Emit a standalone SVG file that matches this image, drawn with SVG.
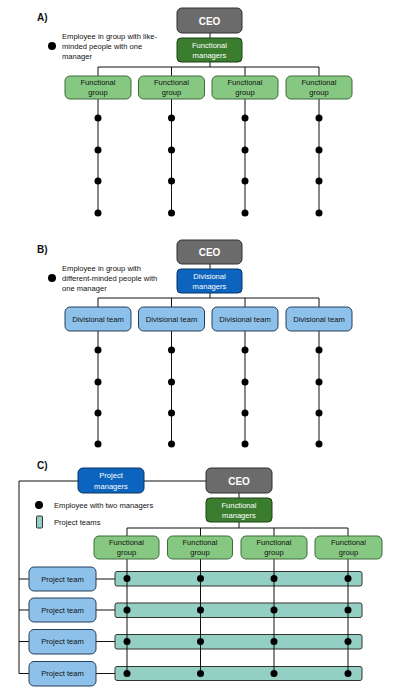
<svg xmlns="http://www.w3.org/2000/svg" width="400" height="694" viewBox="0 0 400 694">
<style>
text{font-family:"Liberation Sans",Arial,sans-serif;font-size:7.6px;fill:#111}
.c{text-anchor:middle}
.w{fill:#fff}
.lbl{font-size:10px;font-weight:bold}
.ceo{fill:#6b6b6b;stroke:#2e2e2e;stroke-width:1}
.fm{fill:#3b7d2f;stroke:#1d4017;stroke-width:1}
.fg{fill:#86c882;stroke:#3d6b3a;stroke-width:1}
.dm{fill:#0c64bf;stroke:#07355f;stroke-width:1}
.dt{fill:#8dc1ea;stroke:#253f5a;stroke-width:1}
.pt{fill:#94cfc3;stroke:#333;stroke-width:1}
.ln{stroke:#111;stroke-width:1;fill:none}
.dot{fill:#000}
.big{font-size:10px;font-weight:bold;fill:#fff}
</style>
<rect width="400" height="694" fill="#fff"/>

<!-- Section labels and legends -->
<text x="37" y="21" class="lbl">A)</text>
<text x="37" y="253" class="lbl">B)</text>
<text x="37" y="469" class="lbl">C)</text>

<g id="legendA">
<circle cx="52" cy="46" r="4" class="dot"/>
<text x="62" y="39">Employee in group with like-</text>
<text x="62" y="49">minded people with one</text>
<text x="62" y="59">manager</text>
</g>
<g id="legendB">
<circle cx="52" cy="278" r="4" class="dot"/>
<text x="62" y="271">Employee in group with</text>
<text x="62" y="281">different-minded people with</text>
<text x="62" y="291">one manager</text>
</g>
<g id="legendC">
<circle cx="39" cy="505" r="4" class="dot"/>
<text x="54" y="508">Employee with two managers</text>
<rect x="36.5" y="516" width="6" height="12" rx="1" class="pt"/>
<text x="54" y="525">Project teams</text>
</g>

<!-- Connectors -->
<g id="connectors" class="ln">
<!-- A -->
<path d="M210 33V67M98 67H319M98 67V76M171.5 67V76M245 67V76M319 67V76"/>
<path d="M98 99V213M171.5 99V213M245 99V213M319 99V213"/>
<!-- B -->
<path d="M210 264V298M98 298H319M98 298V307M171.5 298V307M245 298V307M319 298V307"/>
<path d="M98 331V444M171.5 331V444M245 331V444M319 331V444"/>
<!-- C -->
<path d="M144 481H206M239 493V498M239 522V528M127 528H348M127 528V536M200.5 528V536M274 528V536M348 528V536"/>
<path d="M78 481H19V673.5M19 579H29M19 610H29M19 641.5H29M19 673.5H29"/>
<path d="M96 579H115M96 610H115M96 641.5H115M96 673.5H115"/>
</g>

<!-- A nodes -->
<g id="A-ceo"><rect x="177" y="8" width="65" height="25" rx="5" class="ceo"/><text x="209.5" y="24.5" class="c big">CEO</text></g>
<g id="A-fm"><rect x="177" y="38" width="65" height="24" rx="4" class="fm"/><text x="209.5" y="47.5" class="c w">Functional</text><text x="209.5" y="57.5" class="c w">managers</text></g>
<g id="A-fg1"><rect x="65" y="76" width="66" height="23" rx="5" class="fg"/><text x="98" y="85" class="c">Functional</text><text x="98" y="95" class="c">group</text></g>
<g id="A-fg2"><rect x="138.5" y="76" width="66" height="23" rx="5" class="fg"/><text x="171.5" y="85" class="c">Functional</text><text x="171.5" y="95" class="c">group</text></g>
<g id="A-fg3"><rect x="212" y="76" width="66" height="23" rx="5" class="fg"/><text x="245" y="85" class="c">Functional</text><text x="245" y="95" class="c">group</text></g>
<g id="A-fg4"><rect x="286" y="76" width="66" height="23" rx="5" class="fg"/><text x="319" y="85" class="c">Functional</text><text x="319" y="95" class="c">group</text></g>
<g id="A-dots" class="dot">
<circle cx="98" cy="118" r="3.5"/><circle cx="98" cy="150" r="3.5"/><circle cx="98" cy="181" r="3.5"/><circle cx="98" cy="213" r="3.5"/>
<circle cx="171.5" cy="118" r="3.5"/><circle cx="171.5" cy="150" r="3.5"/><circle cx="171.5" cy="181" r="3.5"/><circle cx="171.5" cy="213" r="3.5"/>
<circle cx="245" cy="118" r="3.5"/><circle cx="245" cy="150" r="3.5"/><circle cx="245" cy="181" r="3.5"/><circle cx="245" cy="213" r="3.5"/>
<circle cx="319" cy="118" r="3.5"/><circle cx="319" cy="150" r="3.5"/><circle cx="319" cy="181" r="3.5"/><circle cx="319" cy="213" r="3.5"/>
</g>

<!-- B nodes -->
<g id="B-ceo"><rect x="177" y="240" width="65" height="24" rx="5" class="ceo"/><text x="209.5" y="256" class="c big">CEO</text></g>
<g id="B-dm"><rect x="177" y="269" width="65" height="24" rx="4" class="dm"/><text x="209.5" y="278.5" class="c w">Divisional</text><text x="209.5" y="289" class="c w">managers</text></g>
<g id="B-dt1"><rect x="65" y="307" width="66" height="24" rx="5" class="dt"/><text x="98" y="321.5" class="c">Divisional team</text></g>
<g id="B-dt2"><rect x="138.5" y="307" width="66" height="24" rx="5" class="dt"/><text x="171.5" y="321.5" class="c">Divisional team</text></g>
<g id="B-dt3"><rect x="212" y="307" width="66" height="24" rx="5" class="dt"/><text x="245" y="321.5" class="c">Divisional team</text></g>
<g id="B-dt4"><rect x="286" y="307" width="66" height="24" rx="5" class="dt"/><text x="319" y="321.5" class="c">Divisional team</text></g>
<g id="B-dots" class="dot">
<circle cx="98" cy="350" r="3.5"/><circle cx="98" cy="382" r="3.5"/><circle cx="98" cy="413" r="3.5"/><circle cx="98" cy="444" r="3.5"/>
<circle cx="171.5" cy="350" r="3.5"/><circle cx="171.5" cy="382" r="3.5"/><circle cx="171.5" cy="413" r="3.5"/><circle cx="171.5" cy="444" r="3.5"/>
<circle cx="245" cy="350" r="3.5"/><circle cx="245" cy="382" r="3.5"/><circle cx="245" cy="413" r="3.5"/><circle cx="245" cy="444" r="3.5"/>
<circle cx="319" cy="350" r="3.5"/><circle cx="319" cy="382" r="3.5"/><circle cx="319" cy="413" r="3.5"/><circle cx="319" cy="444" r="3.5"/>
</g>

<!-- C nodes -->
<g id="C-pm"><rect x="78" y="468" width="66" height="25" rx="5" class="dm"/><text x="111" y="478" class="c w">Project</text><text x="111" y="489" class="c w">managers</text></g>
<g id="C-ceo"><rect x="206" y="468" width="66" height="25" rx="5" class="ceo"/><text x="239" y="484.5" class="c big">CEO</text></g>
<g id="C-fm"><rect x="206" y="498" width="66" height="24" rx="4" class="fm"/><text x="239" y="507.5" class="c w">Functional</text><text x="239" y="518" class="c w">managers</text></g>
<g id="C-teams">
<rect x="115" y="571.5" width="247" height="14.5" rx="2" class="pt"/>
<rect x="115" y="603" width="247" height="14.5" rx="2" class="pt"/>
<rect x="115" y="634.5" width="247" height="14.5" rx="2" class="pt"/>
<rect x="115" y="666.5" width="247" height="14" rx="2" class="pt"/>
</g>
<g id="C-vlines" class="ln">
<path d="M127 559V673.5M200.5 559V673.5M274 559V673.5M348 559V673.5"/>
</g>
<g id="C-fg1"><rect x="94" y="536" width="65" height="23" rx="5" class="fg"/><text x="126.5" y="545" class="c">Functional</text><text x="126.5" y="555" class="c">group</text></g>
<g id="C-fg2"><rect x="167.5" y="536" width="65" height="23" rx="5" class="fg"/><text x="200" y="545" class="c">Functional</text><text x="200" y="555" class="c">group</text></g>
<g id="C-fg3"><rect x="241" y="536" width="66" height="23" rx="5" class="fg"/><text x="274" y="545" class="c">Functional</text><text x="274" y="555" class="c">group</text></g>
<g id="C-fg4"><rect x="315" y="536" width="67" height="23" rx="5" class="fg"/><text x="348.5" y="545" class="c">Functional</text><text x="348.5" y="555" class="c">group</text></g>
<g id="C-pt1"><rect x="29" y="567" width="67" height="24" rx="5" class="dt"/><text x="62.5" y="581.5" class="c">Project team</text></g>
<g id="C-pt2"><rect x="29" y="598" width="67" height="24" rx="5" class="dt"/><text x="62.5" y="612.5" class="c">Project team</text></g>
<g id="C-pt3"><rect x="29" y="629.5" width="67" height="24.5" rx="5" class="dt"/><text x="62.5" y="644" class="c">Project team</text></g>
<g id="C-pt4"><rect x="29" y="661.5" width="67" height="24.5" rx="5" class="dt"/><text x="62.5" y="676" class="c">Project team</text></g>
<g id="C-dots" class="dot">
<circle cx="127" cy="578.5" r="3.5"/><circle cx="127" cy="610" r="3.5"/><circle cx="127" cy="641.5" r="3.5"/><circle cx="127" cy="673.5" r="3.5"/>
<circle cx="200.5" cy="578.5" r="3.5"/><circle cx="200.5" cy="610" r="3.5"/><circle cx="200.5" cy="641.5" r="3.5"/><circle cx="200.5" cy="673.5" r="3.5"/>
<circle cx="274" cy="578.5" r="3.5"/><circle cx="274" cy="610" r="3.5"/><circle cx="274" cy="641.5" r="3.5"/><circle cx="274" cy="673.5" r="3.5"/>
<circle cx="348" cy="578.5" r="3.5"/><circle cx="348" cy="610" r="3.5"/><circle cx="348" cy="641.5" r="3.5"/><circle cx="348" cy="673.5" r="3.5"/>
</g>
</svg>
